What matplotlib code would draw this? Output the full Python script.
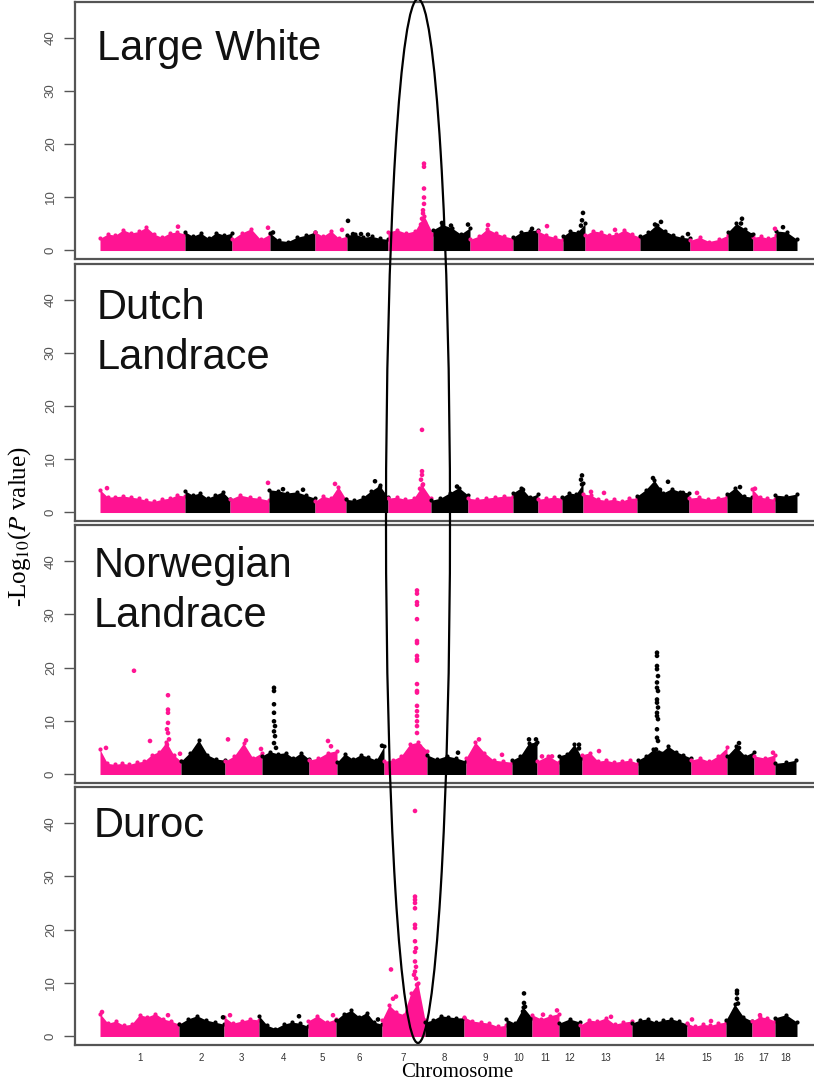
import numpy as np
import matplotlib.pyplot as plt
from matplotlib.patches import Ellipse

plt.rcParams['mathtext.fontset'] = 'stix'

# --- Data ---
breed_lines = [["Large White"], ["Dutch", "Landrace"], ["Norwegian", "Landrace"], ["Duroc"]]
chromosomes = [str(i) for i in range(1, 19)]

# chromosome lengths as drawn on each panel's map (same units for all panels)
len_lw = [85, 47, 38, 45, 32, 41, 45, 37, 43, 25, 25, 22, 55, 50, 38, 25, 23, 21]
len_dl = [85, 45, 39, 46, 31, 42, 43, 37, 45, 25, 24, 21, 54, 52, 38, 25, 23, 22]
len_nl = [81, 44, 37, 47, 28, 47, 43, 39, 46, 25, 22, 23, 56, 53, 36, 27, 21, 21]
len_du = [79, 45, 35, 49, 28, 46, 43, 39, 42, 26, 27, 21, 52, 55, 39, 26, 23, 22]

# upper edge of the dense SNP cloud, evenly spaced along each chromosome
band_lw = [[2.2, 3.0, 2.8, 3.8, 3.2, 3.5, 4.3, 3.0, 2.4, 3.2, 3.4, 3.0],
           [3.4, 2.6, 3.2, 2.2, 3.3, 2.8, 3.2],
           [2.0, 3.2, 4.0, 2.0, 3.0],
           [3.2, 1.8, 1.6, 2.4, 2.8, 3.4],
           [3.4, 2.6, 3.6, 2.2, 2.6],
           [2.8, 3.0, 2.4, 2.6, 2.2, 2.0],
           [3.4, 3.8, 3.2, 3.6, 6.5, 3.0],
           [3.8, 4.8, 4.2, 3.0, 4.2],
           [2.0, 2.6, 4.0, 3.2, 2.6, 2.2],
           [2.4, 3.4, 3.6, 3.8],
           [3.6, 2.8, 2.4, 2.0],
           [2.6, 3.6, 3.4, 5.0],
           [2.8, 3.6, 3.4, 2.8, 3.0, 3.8, 3.0, 2.4],
           [2.6, 3.4, 4.8, 3.6, 2.8, 2.4, 2.2],
           [1.8, 2.4, 1.6, 2.0, 2.8],
           [3.4, 5.0, 4.0, 3.0],
           [2.4, 2.6, 2.2, 2.8],
           [3.6, 3.4, 2.0]]
band_dl = [[4.2, 2.8, 2.9, 3.0, 2.8, 2.6, 2.2, 2.0, 2.4, 2.6, 3.2, 3.0],
           [4.0, 3.2, 3.6, 2.6, 3.2, 3.8, 2.4],
           [2.4, 3.2, 2.8, 2.6, 2.2],
           [4.2, 4.0, 3.6, 3.8, 3.2, 2.6],
           [2.0, 3.0, 2.6, 4.8, 2.4],
           [2.4, 2.2, 2.8, 4.0, 5.0, 2.8],
           [2.6, 2.8, 2.4, 2.6, 5.0, 2.6],
           [2.2, 2.6, 3.6, 4.6, 3.2],
           [2.6, 2.4, 2.6, 2.8, 3.0, 3.0],
           [3.6, 4.6, 2.8, 3.4],
           [2.4, 2.6, 2.8, 2.6],
           [2.8, 3.6, 3.4, 5.4],
           [3.4, 3.2, 2.4, 2.2, 2.4, 2.0, 2.6, 2.6],
           [3.0, 4.2, 6.0, 3.6, 4.4, 3.8, 3.6],
           [2.6, 2.8, 2.4, 2.6, 3.0],
           [3.4, 4.6, 3.0, 2.8],
           [4.4, 2.8, 2.6, 2.4],
           [3.2, 3.0, 3.4]]
band_nl = [[4.6, 2.0, 1.8, 2.0, 1.8, 2.2, 2.4, 3.6, 4.2, 6.0, 3.6, 2.4],
           [2.4, 4.0, 6.4, 3.6, 2.8, 2.6],
           [2.4, 3.4, 5.8, 3.0, 4.0],
           [3.4, 4.2, 3.8, 4.0, 3.0, 4.0, 2.8],
           [2.6, 3.0, 4.0, 4.4],
           [2.2, 3.8, 2.8, 3.6, 3.2, 2.6, 5.2],
           [2.4, 2.6, 3.4, 5.6, 6.0, 4.4],
           [3.6, 2.8, 3.4, 3.0, 2.4],
           [3.0, 6.0, 4.0, 2.6, 2.4, 2.2],
           [2.6, 3.4, 5.8, 6.0],
           [2.4, 3.4, 2.2],
           [3.4, 3.8, 5.6, 3.0],
           [3.6, 4.0, 2.4, 2.6, 2.2, 2.4, 2.6, 2.0],
           [2.6, 3.4, 4.6, 4.0, 5.2, 4.2, 3.6, 3.0],
           [2.6, 3.0, 2.4, 3.4, 5.0],
           [3.4, 5.2, 3.4, 4.2],
           [3.4, 3.0, 3.6],
           [2.0, 2.2, 2.6]]
band_du = [[4.2, 2.4, 2.8, 2.0, 2.2, 4.0, 3.6, 4.2, 3.2, 2.8, 2.2],
           [2.2, 3.2, 3.8, 3.0, 2.6, 2.2],
           [3.6, 2.4, 2.8, 3.2, 3.0],
           [3.8, 2.0, 1.4, 2.2, 2.6, 2.4, 1.8],
           [2.8, 3.8, 2.6, 3.2],
           [3.0, 4.2, 4.8, 3.6, 4.4, 2.6, 2.2],
           [3.0, 5.8, 4.5, 4.0, 8.0, 10.0, 3.0],
           [2.6, 3.0, 3.8, 3.6, 3.4, 3.4],
           [3.6, 2.8, 2.6, 2.4, 1.8, 2.0],
           [3.2, 2.4, 5.4, 3.4],
           [4.0, 3.2, 3.8, 4.2],
           [2.4, 3.2, 2.6],
           [2.0, 3.0, 2.8, 3.4, 2.2, 2.6, 2.8],
           [2.4, 3.0, 3.2, 2.6, 3.0, 3.2, 2.8, 2.2],
           [2.4, 1.8, 2.2, 2.0, 2.4, 2.6],
           [3.0, 6.0, 3.6, 2.8],
           [2.8, 3.6, 3.4, 2.8],
           [3.4, 4.0, 2.6]]

# SNPs standing above the cloud: (chromosome, position on chromosome, -log10 P)
peaks_lw = [(1, 78, 4.4), (3, 36, 4.2), (4, 3, 3.3), (5, 27, 3.8), (6, 1, 5.5), (6, 6, 3.0),
            (6, 14, 3.0), (6, 21, 2.9),
            (7, 36, 16.3), (7, 36, 15.7), (7, 36, 11.6), (7, 36, 9.9), (7, 36, 8.7),
            (7, 35, 7.5), (7, 35, 6.9), (7, 34, 5.9), (7, 37, 5.2), (7, 33, 4.8),
            (8, 9, 5.1), (8, 18, 4.6), (8, 35, 4.8), (9, 18, 4.7), (10, 19, 4.0), (11, 9, 4.5),
            (12, 20, 7.0), (12, 19, 5.6), (12, 18, 4.6), (13, 30, 3.8), (14, 15, 4.8),
            (14, 21, 5.3), (14, 48, 3.0), (16, 14, 5.9), (16, 13, 5.0), (16, 24, 2.8),
            (17, 22, 4.0), (18, 7, 4.3)]
peaks_dl = [(1, 7, 4.5), (3, 38, 5.5), (4, 14, 4.3), (4, 34, 4.2), (5, 20, 5.3), (6, 29, 5.8),
            (6, 34, 4.6),
            (7, 34, 15.5), (7, 34, 7.7), (7, 34, 7.0), (7, 33, 6.1), (7, 35, 5.2), (7, 32, 4.4),
            (8, 26, 4.8), (10, 10, 4.2), (12, 20, 6.9), (12, 19, 6.1), (12, 20, 5.2),
            (13, 8, 3.8), (13, 21, 3.6), (14, 16, 6.4), (14, 31, 5.7), (14, 23, 4.2),
            (14, 46, 3.6), (15, 8, 3.6), (16, 13, 4.7), (17, 3, 4.4)]
peaks_nl = [(1, 6, 4.9), (1, 34, 19.4), (1, 50, 6.2), (1, 80, 3.8),
            (1, 68, 14.8), (1, 68, 12.1), (1, 68, 11.5), (1, 68, 9.6), (1, 67, 8.4),
            (1, 68, 7.7), (1, 69, 6.5), (1, 67, 5.5),
            (3, 3, 6.5), (3, 21, 6.3), (3, 36, 4.7),
            (4, 12, 16.2), (4, 12, 15.6), (4, 12, 13.1), (4, 12, 11.5), (4, 12, 9.9),
            (4, 13, 9.0), (4, 12, 8.0), (4, 13, 7.1), (4, 12, 5.8), (4, 14, 4.9),
            (5, 19, 6.2), (5, 22, 5.2), (6, 45, 5.3),
            (7, 33, 34.5), (7, 33, 33.9), (7, 33, 32.3), (7, 33, 31.8), (7, 33, 29.1),
            (7, 33, 25.0), (7, 33, 24.6), (7, 33, 22.2), (7, 33, 21.6), (7, 33, 21.3),
            (7, 33, 16.9), (7, 33, 15.6), (7, 33, 15.3), (7, 33, 12.8), (7, 33, 11.8),
            (7, 33, 10.9), (7, 33, 9.9), (7, 33, 9.0), (7, 33, 7.7), (7, 36, 5.2),
            (8, 31, 4.0), (9, 13, 6.5), (9, 36, 3.6), (10, 17, 6.5), (10, 24, 6.5),
            (10, 24, 5.6), (11, 5, 3.3), (11, 15, 3.3), (12, 20, 5.5), (12, 20, 4.8),
            (13, 17, 4.3),
            (14, 19, 22.8), (14, 19, 22.2), (14, 19, 20.3), (14, 19, 19.7), (14, 20, 18.4),
            (14, 19, 17.2), (14, 19, 16.2), (14, 20, 15.6), (14, 19, 14.0), (14, 19, 13.4),
            (14, 20, 12.5), (14, 19, 11.5), (14, 19, 10.9), (14, 20, 10.3), (14, 19, 8.4),
            (14, 19, 6.8), (14, 20, 6.2), (14, 18, 4.6), (14, 21, 4.0),
            (16, 12, 5.8), (16, 12, 4.9), (17, 19, 4.0)]
peaks_du = [(1, 2, 4.5), (1, 68, 3.9), (2, 44, 3.5), (3, 6, 3.9), (4, 40, 3.7), (5, 25, 3.9),
            (6, 42, 3.1),
            (7, 9, 12.5), (7, 11, 7.0), (7, 14, 7.4),
            (7, 33, 42.3), (7, 33, 26.2), (7, 33, 25.6), (7, 33, 25.0), (7, 33, 24.0),
            (7, 33, 20.9), (7, 33, 20.3), (7, 33, 17.8), (7, 34, 16.5), (7, 33, 15.8),
            (7, 33, 14.0), (7, 34, 13.0), (7, 33, 12.1), (7, 34, 10.8), (7, 32, 11.5),
            (7, 35, 9.6),
            (10, 18, 8.0), (10, 18, 6.2), (10, 19, 5.5), (10, 17, 4.6),
            (11, 11, 4.0), (11, 25, 4.8), (13, 31, 3.6), (15, 5, 3.1), (15, 24, 2.8),
            (16, 11, 8.5), (16, 11, 8.0), (16, 11, 7.0), (16, 12, 6.1), (16, 10, 4.8),
            (17, 8, 3.9)]

lengths = [len_lw, len_dl, len_nl, len_du]
bands = [band_lw, band_dl, band_nl, band_du]
peaks = [peaks_lw, peaks_dl, peaks_nl, peaks_du]

PINK = '#ff1493'
BLACK = '#000000'

# --- Layout (pixel positions of the four panels) ---
W, H = 814, 1080
panel_px = [(2, 259), (264, 521), (525, 783), (787, 1045)]
label_base = [58, 55, 52, 50]
label_x = [97, 97, 94, 94]

fig = plt.figure(figsize=(W / 100, H / 100), dpi=100)

axes = []
for i, (top, bot) in enumerate(panel_px):
    ax = fig.add_axes([75 / W, 1 - bot / H, (822 - 75) / W, (bot - top) / H])
    axes.append(ax)
    lens = lengths[i]
    starts = np.concatenate([[0], np.cumsum(lens)[:-1]])
    for c in range(18):
        col = PINK if c % 2 == 0 else BLACK
        vals = np.array(bands[i][c])
        xs = np.linspace(starts[c], starts[c] + lens[c], len(vals))
        ax.fill_between(xs, -0.1, vals, color=col, lw=0)
        ax.scatter(xs, vals, s=9, color=col, lw=0)
    pc = np.array([p[0] for p in peaks[i]]) - 1
    px = starts[pc] + np.array([p[1] for p in peaks[i]])
    py = np.array([p[2] for p in peaks[i]])
    pcol = [PINK if c % 2 == 0 else BLACK for c in pc]
    ax.scatter(px, py, s=11, c=pcol, lw=0, zorder=3)

    ax.set_xlim(-25, 722)
    ax.set_ylim(-1.7, 46.8)
    ax.set_yticks([0, 10, 20, 30, 40])
    ax.tick_params(axis='y', length=8, width=1, pad=5, labelsize=9.5,
                   labelcolor='#555555', color='#555555')
    for lab in ax.get_yticklabels():
        lab.set_rotation(90)
        lab.set_va('center')
        lab.set_family('Liberation Sans')
    for s in ax.spines.values():
        s.set_color('#555555')
        s.set_linewidth(1.6)

    if i < 3:
        ax.set_xticks([])
    else:
        centers = starts + np.array(lens) / 2
        ax.set_xticks(centers)
        ax.set_xticklabels(chromosomes, fontsize=7, color='#333333',
                           family='Liberation Sans')
        ax.tick_params(axis='x', length=0, pad=6)

    for k, line in enumerate(breed_lines[i]):
        yb = top + label_base[i] + 50 * k
        fig.text(label_x[i] / W, 1 - yb / H, line, fontsize=30, va='baseline',
                 ha='left', family='Liberation Sans', color='#111111')

fig.text(20 / W, 1 - 527 / H, '-Log$_{10}$($P$ value)', rotation=90, ha='center',
         va='center', fontsize=18, family='Liberation Serif')
fig.text(457 / W, 1 - 1077 / H, 'Chromosome', ha='center', va='baseline',
         fontsize=15, family='Liberation Serif')

ell = Ellipse((418 / W, 1 - 521 / H), 64 / W, 1044 / H, transform=fig.transFigure,
              fill=False, edgecolor='black', lw=1.6, zorder=10)
fig.add_artist(ell)

plt.savefig("out.png", dpi=100)
